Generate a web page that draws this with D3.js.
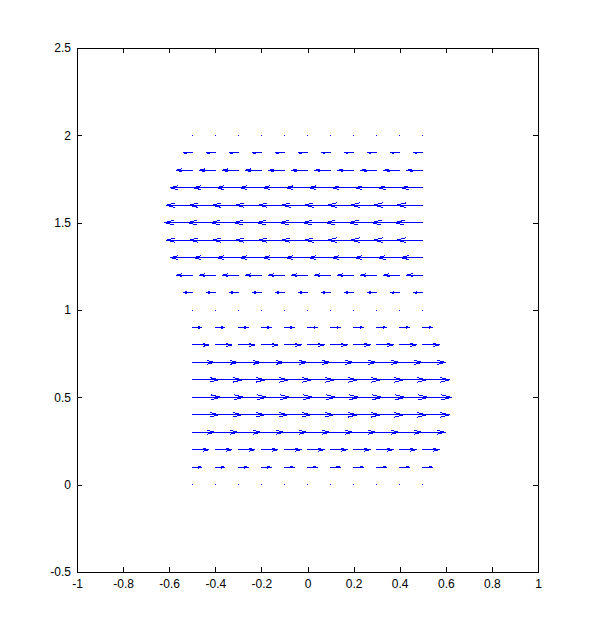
<!DOCTYPE html>
<meta charset="utf-8">
<style>
  body { margin: 0; background: #fff; }
  svg { display: block; }
  .tick text { font: 12px "Liberation Sans", Arial, Helvetica, sans-serif; fill: #000; }
  .domain, .tick line { stroke: #000; }
</style>
<svg width="594" height="643"></svg>
<script src="https://cdn.jsdelivr.net/npm/d3@7"></script>
<script>

// grid of the quiver plot
var gridX = [-0.5, -0.4, -0.3, -0.2, -0.1, 0, 0.1, 0.2, 0.3, 0.4, 0.5];
var gridY = [0, 0.1, 0.2, 0.3, 0.4, 0.5, 0.6, 0.7, 0.8, 0.9, 1,
             1.1, 1.2, 1.3, 1.4, 1.5, 1.6, 1.7, 1.8, 1.9, 2];
// horizontal component per row (same for every column)
var rowU = [0, 0.042, 0.072, 0.098, 0.116, 0.124, 0.116, 0.098, 0.072, 0.042, 0,
            -0.040, -0.069, -0.095, -0.113, -0.121, -0.113, -0.095, -0.069, -0.038, 0];

var xTicks = [-1, -0.8, -0.6, -0.4, -0.2, 0, 0.2, 0.4, 0.6, 0.8, 1];
var xTickLabels = ["-1", "-0.8", "-0.6", "-0.4", "-0.2", "0", "0.2", "0.4", "0.6", "0.8", "1"];
var yTicks = [-0.5, 0, 0.5, 1, 1.5, 2, 2.5];
var yTickLabels = ["-0.5", "0", "0.5", "1", "1.5", "2", "2.5"];

var svg = d3.select("svg"),
    margin = {top: 48, right: 56, bottom: 71, left: 77},
    width = +svg.attr("width") - margin.left - margin.right,
    height = +svg.attr("height") - margin.top - margin.bottom;

var x = d3.scaleLinear().domain([-1, 1]).range([0, width]);
var y = d3.scaleLinear().domain([-0.5, 2.5]).range([height, 0]);

var g = svg.append("g")
    .attr("transform", "translate(" + margin.left + "," + margin.top + ")")
    .attr("shape-rendering", "crispEdges");

// arrows
var arrows = [];
gridY.forEach(function(yy, i) {
  gridX.forEach(function(xx) {
    arrows.push({x: xx, y: yy, u: rowU[i], v: 0});
  });
});

var alpha = 0.33, beta = 0.33;

g.append("g")
    .attr("fill", "none")
    .attr("stroke", "#0000ff")
    .attr("stroke-width", 1)
    .attr("stroke-linecap", "square")
  .selectAll("path")
  .data(arrows)
  .enter().append("path")
    .attr("d", function(d) {
      var tx = d.x + d.u, ty = d.y + d.v;
      var p = "M" + x(d.x) + "," + y(d.y) + "L" + x(tx) + "," + y(ty);
      if (d.u !== 0 || d.v !== 0) {
        var h1x = tx - alpha * (d.u + beta * d.v), h1y = ty - alpha * (d.v - beta * d.u);
        var h2x = tx - alpha * (d.u - beta * d.v), h2y = ty - alpha * (d.v + beta * d.u);
        p += "M" + x(h1x) + "," + y(h1y) + "L" + x(tx) + "," + y(ty) +
             "L" + x(h2x) + "," + y(h2y);
      }
      return p;
    });

// axes, ticks pointing inward on all four sides
g.append("g")
    .attr("transform", "translate(0," + height + ")")
    .call(d3.axisBottom(x).tickValues(xTicks)
      .tickFormat(function(d, i) { return xTickLabels[i]; })
      .tickSizeInner(-5).tickSizeOuter(0).tickPadding(7));

g.append("g")
    .call(d3.axisTop(x).tickValues(xTicks).tickFormat("")
      .tickSizeInner(-5).tickSizeOuter(0));

g.append("g")
    .call(d3.axisLeft(y).tickValues(yTicks)
      .tickFormat(function(d, i) { return yTickLabels[i]; })
      .tickSizeInner(-5).tickSizeOuter(0).tickPadding(6));

g.append("g")
    .attr("transform", "translate(" + width + ",0)")
    .call(d3.axisRight(y).tickValues(yTicks).tickFormat("")
      .tickSizeInner(-5).tickSizeOuter(0));

g.selectAll(".tick text").attr("shape-rendering", null);

</script>
